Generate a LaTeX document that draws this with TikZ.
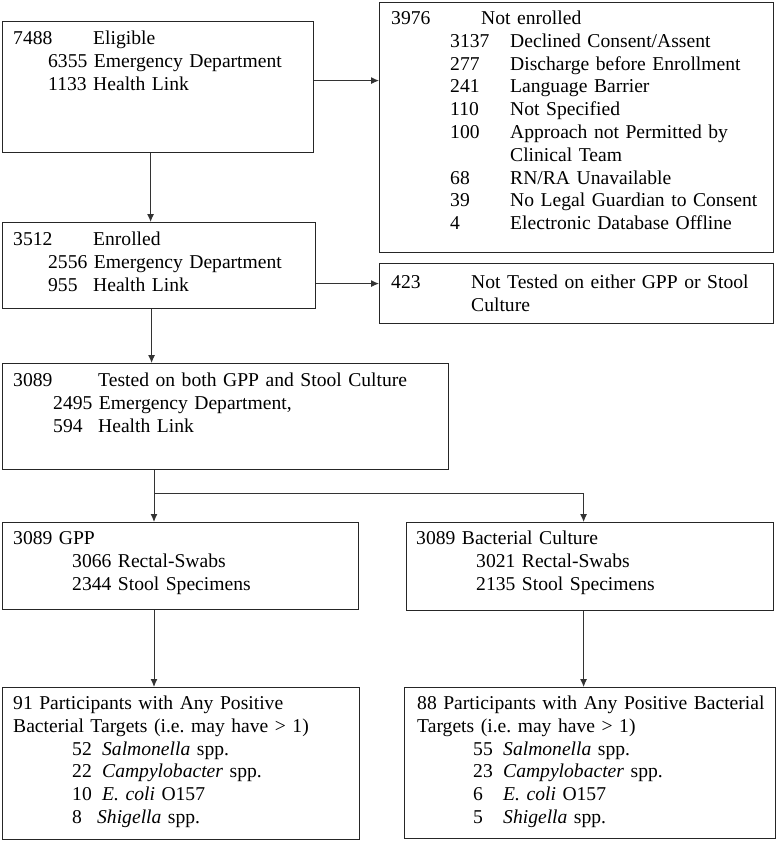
\documentclass[tikz,border=0pt]{standalone}
\usepackage{fontspec}
\setmainfont{Liberation Serif}
\usepackage{tikz}
\usetikzlibrary{
  positioning,
  arrows.meta
}
\newcommand{\numcol}[2]{\makebox[#1][l]{#2}}

\begin{document}
\begin{tikzpicture}[x=1pt,y=-1pt,>={Latex[length=8pt,width=7pt]},
    box/.style={draw=black!85,line width=1.2pt,inner sep=0pt,anchor=north west},
    txt/.style={font=\fontsize{19.6pt}{22.8pt}\selectfont\frenchspacing,text width=500pt,align=left,inner sep=0pt,anchor=base west},
    conn/.style={->,draw=black!80,line width=1pt}]
            \useasboundingbox (0,0) rectangle (777,841);
            % boxes
            \node[box,minimum width=311pt,minimum height=131pt] (elig) at (2,21) {};
            \node[box,minimum width=394pt,minimum height=250pt] (notenr) at (379,2) {};
            \node[box,minimum width=313pt,minimum height=86pt] (enrol) at (2,222) {};
            \node[box,minimum width=394pt,minimum height=60pt] (notest) at (379,263) {};
            \node[box,minimum width=446pt,minimum height=106pt] (tested) at (2,363) {};
            \node[box,minimum width=356pt,minimum height=87pt] (gpp) at (2,522) {};
            \node[box,minimum width=367pt,minimum height=88pt] (cult) at (406,522) {};
            \node[box,minimum width=357pt,minimum height=152pt] (pos1) at (2,687) {};
            \node[box,minimum width=371pt,minimum height=151pt] (pos2) at (404,687) {};
            % texts
            \node[txt] (eligtxt) at (13,44.5) {\numcol{80pt}{7488}Eligible\\
                \hspace*{35pt}6355 Emergency Department\\
                \hspace*{35pt}1133 Health Link};
            \node[txt] (notenrtxt) at (391,24.5) {\numcol{90pt}{3976}Not enrolled\\
                \hspace*{59pt}\numcol{60pt}{3137}Declined Consent/Assent\\
                \hspace*{59pt}\numcol{60pt}{277}Discharge before Enrollment\\
                \hspace*{59pt}\numcol{60pt}{241}Language Barrier\\
                \hspace*{59pt}\numcol{60pt}{110}Not Specified\\
                \hspace*{59pt}\numcol{60pt}{100}Approach not Permitted by\\
                \hspace*{119pt}Clinical Team\\
                \hspace*{59pt}\numcol{60pt}{68}RN/RA Unavailable\\
                \hspace*{59pt}\numcol{60pt}{39}No Legal Guardian to Consent\\
                \hspace*{59pt}\numcol{60pt}{4}Electronic Database Offline};
            \node[txt] (enroltxt) at (13,245.5) {\numcol{80pt}{3512}Enrolled\\
                \hspace*{35pt}2556 Emergency Department\\
                \hspace*{35pt}\numcol{45pt}{955}Health Link};
            \node[txt] (notesttxt) at (391,288.5) {\numcol{80pt}{423}Not Tested on either GPP or Stool\\
                \hspace*{80pt}Culture};
            \node[txt] (testedtxt) at (13,386.5) {\numcol{85pt}{3089}Tested on both GPP and Stool Culture\\
                \hspace*{40pt}2495 Emergency Department,\\
                \hspace*{40pt}\numcol{45pt}{594}Health Link};
            \node[txt] (gpptxt) at (13,544.5) {3089 GPP\\
                \hspace*{59pt}3066 Rectal-Swabs\\
                \hspace*{59pt}2344 Stool Specimens};
            \node[txt] (culttxt) at (416,544.5) {3089 Bacterial Culture\\
                \hspace*{60pt}3021 Rectal-Swabs\\
                \hspace*{60pt}2135 Stool Specimens};
            \node[txt] (pos1txt) at (13,709.5) {91 Participants with Any Positive\\
                Bacterial Targets (i.e. may have > 1)\\
                \hspace*{59pt}\numcol{30pt}{52}\textit{Salmonella} spp.\\
                \hspace*{59pt}\numcol{30pt}{22}\textit{Campylobacter} spp.\\
                \hspace*{59pt}\numcol{30pt}{10}\textit{E. coli} O157\\
                \hspace*{59pt}\numcol{25pt}{8}\textit{Shigella} spp.};
            \node[txt] (pos2txt) at (417,709.5) {88 Participants with Any Positive Bacterial\\
                Targets (i.e. may have > 1)\\
                \hspace*{56pt}\numcol{30pt}{55}\textit{Salmonella} spp.\\
                \hspace*{56pt}\numcol{30pt}{23}\textit{Campylobacter} spp.\\
                \hspace*{56pt}\numcol{30pt}{6}\textit{E. coli} O157\\
                \hspace*{56pt}\numcol{30pt}{5}\textit{Shigella} spp.};
            % connectors
            \coordinate (split) at (154,493);
            \draw[conn] ([yshift=6.5pt]elig.east) -- ([yshift=6.5pt]elig.east -| notenr.west);
            \draw[conn] ([xshift=-7.5pt]elig.south) -- ([xshift=-7.5pt]elig.south |- enrol.north);
            \draw[conn] ([yshift=-18pt]enrol.east) -- ([yshift=10pt]notest.west);
            \draw[conn] ([xshift=-7.5pt]enrol.south) -- ([xshift=-7.5pt]enrol.south |- tested.north);
            \draw[conn] (tested.south -| split) -- (gpp.north -| split);
            \draw[conn] (split) -| ([xshift=-6.5pt]cult.north);
            \draw[conn] (gpp.south -| split) -- (pos1.north -| split);
            \draw[conn] ([xshift=-6.5pt]cult.south) -- ([xshift=-6.5pt]cult.south |- pos2.north);
        \end{tikzpicture}
\end{document}
